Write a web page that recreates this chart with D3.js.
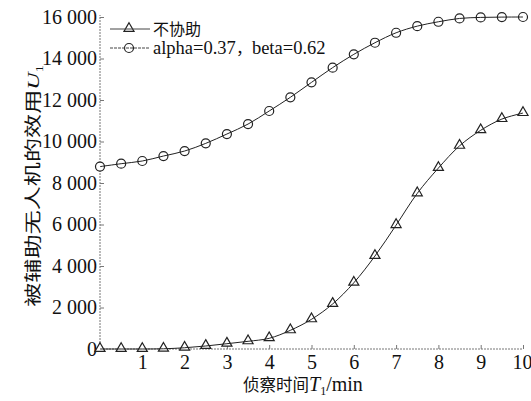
<!DOCTYPE html>
<html>
<head>
<meta charset="utf-8">
<script src="https://cdn.jsdelivr.net/npm/d3@7"></script>
<style>
  html, body { margin: 0; padding: 0; background: #fff; }
  svg { display: block; }
  .num { font-family: "Liberation Serif", "DejaVu Serif", serif; }
  .cjk { font-family: "Noto Sans CJK SC", "Liberation Serif", serif; }
</style>
</head>
<body>
<svg id="chart" width="531" height="401"></svg>
<script>
// Reconnaissance time T1 (min)
const times = [0, 0.5, 1, 1.5, 2, 2.5, 3, 3.5, 4, 4.5, 5, 5.5, 6, 6.5, 7, 7.5, 8, 8.5, 9, 9.5, 10];
// Utility of the assisted UAV without cooperation
const noAssist = [0, 0, 0, 10, 60, 145, 255, 370, 515, 900, 1430, 2170, 3190, 4480, 5970, 7500, 8720, 9790, 10540, 11080, 11370];
// Utility with alpha = 0.37, beta = 0.62
const withAssist = [8790, 8930, 9060, 9300, 9540, 9910, 10360, 10840, 11470, 12130, 12850, 13560, 14200, 14760, 15240, 15560, 15770, 15930, 15980, 15995, 16000];

const xTicks = [1, 2, 3, 4, 5, 6, 7, 8, 9, 10];
const yTicks = [0, 2000, 4000, 6000, 8000, 10000, 12000, 14000, 16000];
const legendLabels = ["不协助", "alpha=0.37，beta=0.62"];

const svg = d3.select("#chart");
const x = d3.scaleLinear().domain([0, 10]).range([100, 523]);
const y = d3.scaleLinear().domain([0, 16000]).range([349, 17]);

const fmt = v => {
  const s = String(v);
  return s.length > 3 ? s.slice(0, s.length - 3) + " " + s.slice(-3) : s;
};

// Axes: dotted grey spines with inward ticks
const axisColor = "#777";
svg.append("line")
  .attr("x1", x(0)).attr("x2", x(10)).attr("y1", y(0)).attr("y2", y(0))
  .attr("stroke", axisColor).attr("stroke-width", 1).attr("stroke-dasharray", "2,1");
svg.append("line")
  .attr("x1", x(0)).attr("x2", x(0)).attr("y1", y(0)).attr("y2", y(16000) - 2)
  .attr("stroke", axisColor).attr("stroke-width", 1).attr("stroke-dasharray", "2,1");

const xAxis = d3.axisBottom(x).tickValues(xTicks).tickSize(-4).tickPadding(6).tickFormat(d3.format("d"));
const gx = svg.append("g").attr("transform", `translate(0,${y(0)})`).call(xAxis);
gx.select(".domain").remove();
gx.selectAll(".tick line").attr("stroke", axisColor);
gx.selectAll(".tick text").attr("class", "num").attr("font-size", 20).attr("fill", "#111");
gx.selectAll(".tick").filter(d => d === 10).select("text").attr("text-anchor", "end").attr("dx", 9);

const yAxis = d3.axisLeft(y).tickValues(yTicks).tickSize(-4).tickPadding(3).tickFormat(fmt);
const gy = svg.append("g").attr("transform", `translate(${x(0)},0)`).call(yAxis);
gy.select(".domain").remove();
gy.selectAll(".tick line").attr("stroke", axisColor);
gy.selectAll(".tick text").attr("class", "num").attr("font-size", 20).attr("fill", "#111");

// Axis titles
const xt = svg.append("text").attr("class", "cjk").attr("font-size", 16.5).attr("fill", "#111")
  .attr("x", 243).attr("y", 391);
xt.append("tspan").text("侦察时间");
xt.append("tspan").attr("class", "num").attr("font-style", "italic").attr("font-size", 20).text("T");
xt.append("tspan").attr("class", "num").attr("font-size", 12).attr("dy", 4).text("1");
xt.append("tspan").attr("class", "num").attr("font-size", 20).attr("dy", -4).text("/min");

// Y title is drawn stretched along its reading direction
const yt = svg.append("text").attr("class", "cjk").attr("font-size", 17).attr("fill", "#111")
  .attr("transform", "translate(39,186) rotate(-90) scale(1.42,1)").attr("text-anchor", "middle");
yt.append("tspan").text("被辅助无人机的效用");
yt.append("tspan").attr("class", "num").attr("font-style", "italic").attr("font-size", 17).text("U");
yt.append("tspan").attr("class", "num").attr("font-size", 10).attr("dy", 4).text("1");

// Series: white markers first, then the curve drawn through them
const line = d3.line().x((d, i) => x(times[i])).y(d => y(d)).curve(d3.curveCatmullRom);
const tri = d3.symbol().type(d3.symbolTriangle).size(44);

function drawMarker(g, marker, cx, cy) {
  if (marker === "tri") {
    g.append("path").attr("d", tri).attr("transform", `translate(${cx},${cy - 0.5})`)
      .attr("fill", "#fff").attr("stroke", "#222").attr("stroke-width", 1.2);
  } else {
    g.append("circle").attr("cx", cx).attr("cy", cy).attr("r", 4.5)
      .attr("fill", "#fff").attr("stroke", "#222").attr("stroke-width", 1.2);
  }
}
function drawSeries(vals, marker) {
  const g = svg.append("g");
  vals.forEach((v, i) => drawMarker(g, marker, x(times[i]), y(v)));
  svg.append("path").datum(vals).attr("d", line)
    .attr("fill", "none").attr("stroke", "#222").attr("stroke-width", 1);
}
drawSeries(noAssist, "tri");
drawSeries(withAssist, "circ");

// Legend: Latin runs in serif, CJK characters and full-width punctuation in the CJK face
const legend = svg.append("g");
legendLabels.forEach((lab, i) => {
  const ly = 29 + i * 19;
  drawMarker(legend, i ? "circ" : "tri", 129, ly);
  legend.append("line").attr("x1", 110).attr("x2", 150).attr("y1", ly).attr("y2", ly)
    .attr("stroke", "#444").attr("stroke-width", 1).attr("stroke-dasharray", i ? "3,1" : null);
  const t = legend.append("text").attr("fill", "#111").attr("x", 153).attr("y", ly + 6);
  const runs = lab.match(/[\u3000-\u9fff\uff00-\uffef]+|[^\u3000-\u9fff\uff00-\uffef]+/g);
  runs.forEach(r => {
    const isCjk = /[\u3000-\u9fff\uff00-\uffef]/.test(r);
    t.append("tspan").attr("class", isCjk ? "cjk" : "num")
      .attr("font-size", isCjk ? 16 : 18.5).text(r);
  });
});
</script>
</body>
</html>
